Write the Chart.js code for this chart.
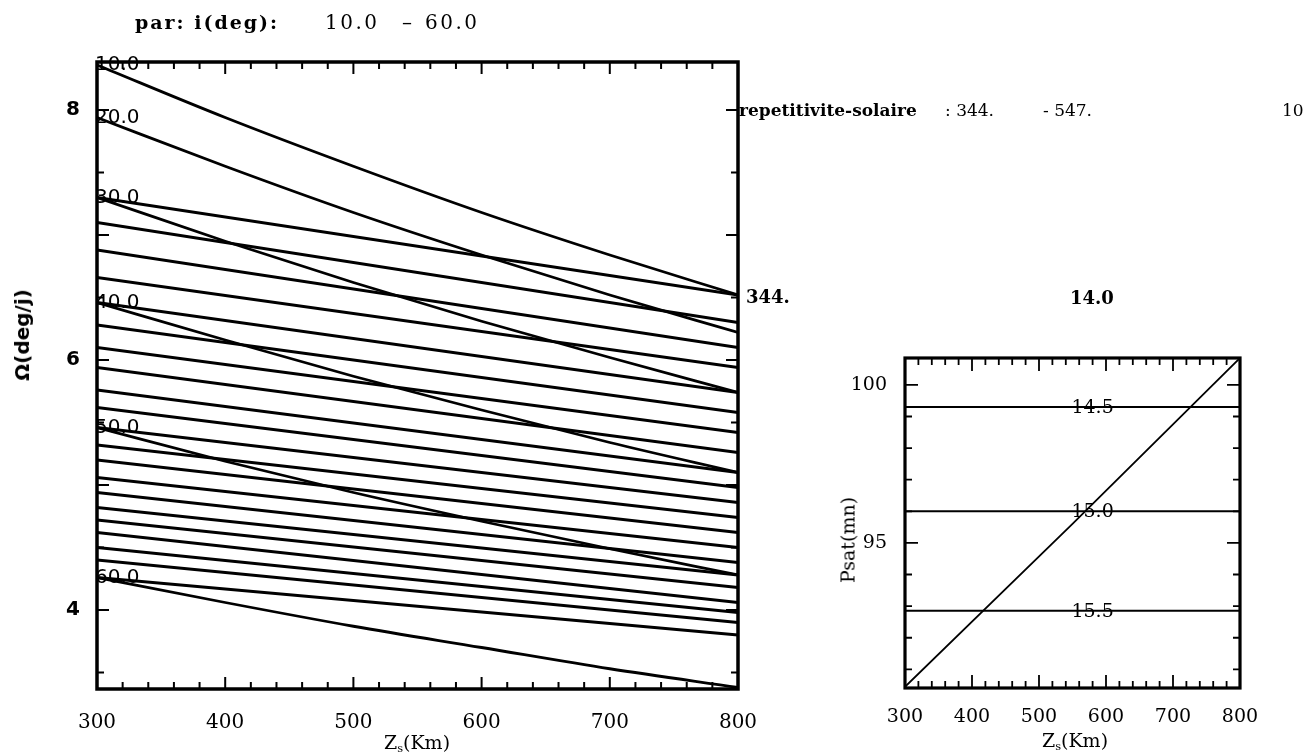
<!DOCTYPE html>
<html>
<head>
<meta charset="utf-8">
<title>Repetitivite solaire</title>
<script src="https://cdn.jsdelivr.net/npm/chart.js@4.4.1/dist/chart.umd.min.js"></script>
<style>
  html, body { margin: 0; padding: 0; background: #fff; }
  body { width: 1306px; height: 755px; position: relative; overflow: hidden; font-family: "DejaVu Serif", serif; color: #000; }
  .box { position: absolute; }
  .t { position: absolute; white-space: nowrap; transform: translateY(-50%); line-height: 1; }
  .ctr { position: absolute; white-space: nowrap; transform: translate(-50%, -50%); line-height: 1; }
  .rot { position: absolute; white-space: nowrap; transform: translate(-50%, -50%) rotate(-90deg); line-height: 1; }
  .b { font-weight: bold; }
  sub { font-size: 60%; vertical-align: -3px; }
</style>
</head>
<body>
<!-- deux graphiques -->
<div class="box" style="left:0;top:0;width:790px;height:755px"><canvas id="chart-omega"></canvas></div>
<div class="box" style="left:790px;top:0;width:516px;height:755px"><canvas id="chart-period"></canvas></div>

<!-- textes libres -->
<div class="t b" style="left:135px;top:22px;font-size:19px;letter-spacing:2px">par: i(deg):</div>
<div class="t" style="left:325px;top:22px;font-size:20px;letter-spacing:2.5px">10.0</div>
<div class="t" style="left:402px;top:22px;font-size:20px">–</div>
<div class="t" style="left:425px;top:22px;font-size:20px;letter-spacing:2.5px">60.0</div>

<div class="t b" style="left:739px;top:110px;font-size:17px">repetitivite-solaire</div>
<div class="t" style="left:945px;top:110px;font-size:17px">: 344.</div>
<div class="t" style="left:1043px;top:110px;font-size:17px">- 547.</div>
<div class="t" style="left:1282px;top:110px;font-size:17px">10</div>

<div class="t b" style="left:746px;top:297px;font-size:18px">344.</div>
<div class="t b" style="left:1070px;top:298px;font-size:18px">14.0</div>

<div class="rot b" style="left:22px;top:335px;font-size:20px;font-family:'DejaVu Sans',sans-serif">Ω(deg/j)</div>
<div class="ctr" style="left:417px;top:744px;font-size:19px">Z<sub>s</sub>(Km)</div>
<div class="rot" style="left:848px;top:540px;font-size:19px">Psat(mn)</div>
<div class="ctr" style="left:1075px;top:742px;font-size:19px">Z<sub>s</sub>(Km)</div>

<script>
// --- données ---
const altitudes = [300, 400, 500, 600, 700, 800];
const inclinationLabels = ['10.0', '20.0', '30.0', '40.0', '50.0', '60.0'];
const omegaI10 = [8.36, 7.94, 7.55, 7.18, 6.84, 6.52];
const omegaI20 = [7.94, 7.55, 7.18, 6.84, 6.52, 6.22];
const omegaI30 = [7.30, 6.95, 6.62, 6.31, 6.02, 5.74];
const omegaI40 = [6.46, 6.16, 5.87, 5.60, 5.34, 5.10];
const omegaI50 = [5.46, 5.19, 4.94, 4.71, 4.49, 4.28];
const omegaI60 = [4.26, 4.06, 3.87, 3.70, 3.53, 3.38];

// droites de repetitivite (valeurs a 300 km et a 800 km)
const repAltitudes = [300, 800];
const repOmega300 = [7.30, 7.10, 6.88, 6.66, 6.46, 6.28, 6.10, 5.94, 5.76, 5.62, 5.46, 5.32, 5.20, 5.06, 4.94, 4.82, 4.72, 4.62, 4.50, 4.40, 4.26];
const repOmega800 = [6.52, 6.30, 6.10, 5.94, 5.74, 5.58, 5.42, 5.26, 5.10, 4.98, 4.86, 4.74, 4.62, 4.50, 4.38, 4.28, 4.18, 4.06, 3.98, 3.90, 3.80];

// periode du satellite
const periodAltitudes = [300, 550, 800];
const periodMinutes = [90.45, 95.6, 100.85];
const revsPerDay = ['14.5', '15.0', '15.5'];
const revPeriods = [99.3, 96.0, 92.85];

const xTicks = [300, 400, 500, 600, 700, 800];
const omegaTicks = [4, 6, 8];
const periodTicks = [95, 100];

// --- plugins ---
const frameTicks = {
    id: 'frameTicks',
    afterDatasetsDraw(chart, args, o) {
        const { ctx, chartArea: a, scales: { x, y } } = chart;
        ctx.save();
        ctx.strokeStyle = '#000';
        ctx.lineWidth = o.tickWidth;
        ctx.beginPath();
        const nx = Math.round((x.max - x.min) / o.xStep);
        for (let i = 0; i <= nx; i++) {
            const v = x.min + i * o.xStep;
            const px = x.getPixelForValue(v);
            const len = (Math.round(v) % o.xMajor === 0) ? o.majorLen : o.minorLen;
            ctx.moveTo(px, a.bottom); ctx.lineTo(px, a.bottom - len);
            ctx.moveTo(px, a.top); ctx.lineTo(px, a.top + len);
        }
        const k0 = Math.ceil(y.min / o.yStep), k1 = Math.floor(y.max / o.yStep);
        for (let k = k0; k <= k1; k++) {
            const v = k * o.yStep;
            const py = y.getPixelForValue(v);
            const len = (Math.abs(v / o.yMajor - Math.round(v / o.yMajor)) < 1e-6) ? o.majorLen : o.minorLen;
            ctx.moveTo(a.left, py); ctx.lineTo(a.left + len, py);
            ctx.moveTo(a.right, py); ctx.lineTo(a.right - len, py);
        }
        ctx.stroke();
        ctx.lineWidth = o.frameWidth;
        ctx.strokeRect(a.left, a.top, a.right - a.left, a.bottom - a.top);
        ctx.restore();
    }
};

const lineLabels = {
    id: 'lineLabels',
    afterDatasetsDraw(chart, args, o) {
        const { ctx, scales: { x, y } } = chart;
        ctx.save();
        ctx.font = o.font;
        ctx.fillStyle = '#000';
        ctx.textBaseline = 'middle';
        ctx.textAlign = o.align;
        o.items.forEach(it => {
            ctx.fillText(it.text, x.getPixelForValue(it.x) + o.dx, y.getPixelForValue(it.y) + o.dy);
        });
        ctx.restore();
    }
};

const pts = (xs, ys) => xs.map((v, i) => ({ x: v, y: ys[i] }));

// fixe la zone de tracé au pixel près
const fixX = h => s => { s.height = h; s.paddingLeft = 0; s.paddingRight = 0; };
const fixY = w => s => { s.width = w; s.paddingTop = 0; s.paddingBottom = 0; };

// --- graphique de gauche ---
const inclSeries = [omegaI10, omegaI20, omegaI30, omegaI40, omegaI50, omegaI60];
const omegaDatasets = [];
inclSeries.forEach((s, i) => omegaDatasets.push({
    label: 'i=' + inclinationLabels[i],
    data: pts(altitudes, s),
    borderColor: '#000', borderWidth: 2.8, pointRadius: 0,
    cubicInterpolationMode: 'monotone'
}));
repOmega300.forEach((v, i) => omegaDatasets.push({
    label: 'rep ' + i,
    data: pts(repAltitudes, [v, repOmega800[i]]),
    borderColor: '#000', borderWidth: 2.8, pointRadius: 0
}));

new Chart(document.getElementById('chart-omega'), {
    type: 'line',
    data: { datasets: omegaDatasets },
    options: {
        responsive: true, maintainAspectRatio: false, animation: false,
        layout: { padding: { left: 0, right: 52, top: 62, bottom: 0 } },
        plugins: {
            legend: { display: false }, tooltip: { enabled: false },
            frameTicks: { xStep: 20, xMajor: 100, yStep: 0.5, yMajor: 1, majorLen: 12, minorLen: 7, tickWidth: 2, frameWidth: 3.5 },
            lineLabels: {
                font: '20px "DejaVu Sans", sans-serif', align: 'left', dx: -2, dy: 0,
                items: inclSeries.map((s, i) => ({ text: inclinationLabels[i], x: altitudes[0], y: s[0] }))
            }
        },
        scales: {
            x: {
                type: 'linear', min: 300, max: 800,
                grid: { display: false, drawTicks: false }, border: { display: false },
                afterBuildTicks: s => { s.ticks = xTicks.map(v => ({ value: v })); },
                afterFit: fixX(66),
                ticks: { padding: 22, color: '#000', maxRotation: 0, font: { family: 'DejaVu Serif', size: 20 } }
            },
            y: {
                type: 'linear', min: 3.368, max: 8.384,
                grid: { display: false, drawTicks: false }, border: { display: false },
                afterBuildTicks: s => { s.ticks = omegaTicks.map(v => ({ value: v })); },
                afterFit: fixY(97),
                ticks: { padding: 17, color: '#000', font: { family: 'DejaVu Sans', size: 20, weight: 'bold' } }
            }
        }
    },
    plugins: [lineLabels, frameTicks]
});

// --- graphique de droite ---
const periodDatasets = [{
    label: 'Psat',
    data: pts(periodAltitudes, periodMinutes),
    borderColor: '#000', borderWidth: 1.8, pointRadius: 0
}];
revPeriods.forEach((p, i) => periodDatasets.push({
    label: revsPerDay[i],
    data: pts([300, 800], [p, p]),
    borderColor: '#000', borderWidth: 2, pointRadius: 0
}));

new Chart(document.getElementById('chart-period'), {
    type: 'line',
    data: { datasets: periodDatasets },
    options: {
        responsive: true, maintainAspectRatio: false, animation: false,
        layout: { padding: { left: 0, right: 66, top: 358, bottom: 0 } },
        plugins: {
            legend: { display: false }, tooltip: { enabled: false },
            frameTicks: { xStep: 20, xMajor: 100, yStep: 1, yMajor: 5, majorLen: 13, minorLen: 7, tickWidth: 1.8, frameWidth: 3.2 },
            lineLabels: {
                font: '19px "DejaVu Serif", serif', align: 'center', dx: 0, dy: 1,
                items: revPeriods.map((p, i) => ({ text: revsPerDay[i], x: 580, y: p }))
            }
        },
        scales: {
            x: {
                type: 'linear', min: 300, max: 800,
                grid: { display: false, drawTicks: false }, border: { display: false },
                afterBuildTicks: s => { s.ticks = xTicks.map(v => ({ value: v })); },
                afterFit: fixX(67),
                ticks: { padding: 18, color: '#000', maxRotation: 0, font: { family: 'DejaVu Serif', size: 19 } }
            },
            y: {
                type: 'linear', min: 90.41, max: 100.85,
                grid: { display: false, drawTicks: false }, border: { display: false },
                afterBuildTicks: s => { s.ticks = periodTicks.map(v => ({ value: v })); },
                afterFit: fixY(115),
                ticks: { padding: 18, color: '#000', font: { family: 'DejaVu Serif', size: 19 } }
            }
        }
    },
    plugins: [lineLabels, frameTicks]
});
</script>
</body>
</html>
